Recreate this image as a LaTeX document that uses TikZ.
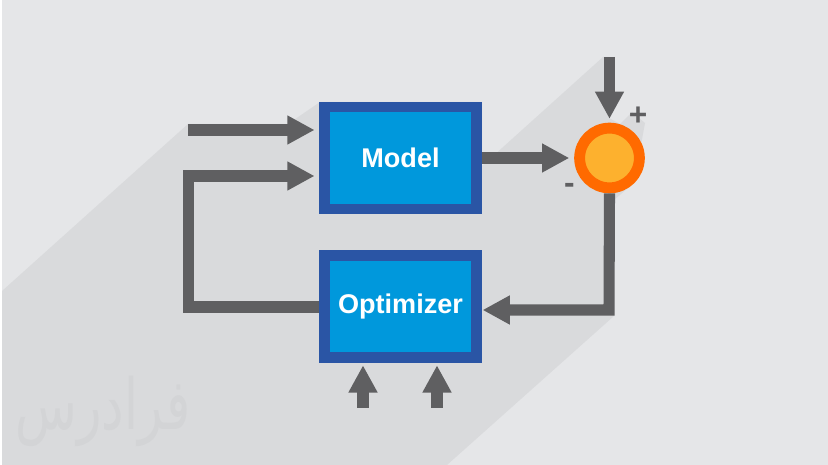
\documentclass[tikz,border=0pt]{standalone}
\usepackage{fontspec}
\setmainfont{Liberation Sans}
\newfontfamily\arabicfont[Script=Arabic]{DejaVu Sans}
\TeXXeTstate=1
\usetikzlibrary{arrows.meta}
\definecolor{bgcol}{HTML}{E5E6E8}
\definecolor{shadecol}{HTML}{D9DADC}
\definecolor{markcol}{HTML}{D3D4D6}
\definecolor{flowcol}{HTML}{5F5F61}
\definecolor{rimcol}{HTML}{2A55A5}
\definecolor{boxcol}{HTML}{0098DC}
\definecolor{ringcol}{HTML}{FF6A00}
\definecolor{suncol}{HTML}{FDB12E}
\tikzset{
  block/.style={draw=rimcol,fill=boxcol,line width=5.95pt,minimum width=86.3pt,minimum height=58pt,text=white,font=\bfseries\fontsize{15.4}{18}\selectfont},
  flow/.style={draw=flowcol,line width=6.3pt,miter limit=10,-{Triangle[length=15.5pt,width=15.5pt]}},
  sign/.style={text=flowcol,inner sep=0pt,font=\bfseries\fontsize{18}{20}\selectfont}
}
\begin{document}
\begin{tikzpicture}[x=0.02cm,y=-0.02cm]
      \useasboundingbox (0,0) rectangle (828,465);
      \fill[white] (0,0) rectangle (828,465);
      \fill[bgcol] (2,0) rectangle (828,465);
      \fill[shadecol] (2,291) -- (188,124) -- (288,124) -- (320,102) -- (482,102) -- (482,166) -- (603,57) -- (609,57) -- (609,118) -- (620,124) -- (632,112) -- (645,123) -- (634,183) -- (614,200) -- (614,316) -- (447,465) -- (2,465) -- cycle;
      \node[text=markcol,xscale=0.72,transform shape,font=\arabicfont\fontsize{40}{44}\selectfont] (brand) at (103,411) {\beginR فرادرس\endR};
      \node[block] (model) at (400.5,158) {Model};
      \node[block] (optimizer) at (400.5,306.5) {Optimizer};
      \node[circle,draw=ringcol,fill=suncol,line width=6.2pt,minimum size=34pt,inner sep=0pt] (sum) at (609.5,158) {};
      \coordinate (in1) at (188,130);
      \coordinate (in2) at (188.5,176);
      \coordinate (bend) at (188.5,307);
      \coordinate (top) at (609.5,57);
      \coordinate (corner) at (609,310);
      \coordinate (low1) at (363,408);
      \coordinate (low2) at (437,408);
      \draw[flow,shorten >=2.8pt] (in1) -- (in1 -| model.west);
      \draw[flow,shorten >=2.8pt] (optimizer.west |- bend) -- (bend) -- (in2) -- (in2 -| model.west);
      \draw[flow,shorten >=2.8pt] (model.east) -- (sum.west);
      \draw[flow,shorten >=2.2pt] (top) -- (sum.north);
      \draw[flow,shorten >=0.6pt] (sum.south) -- (corner) -- (corner -| optimizer.east);
      \draw[flow,shorten >=1.5pt] (low1) -- (low1 |- optimizer.south);
      \draw[flow,shorten >=1.5pt] (low2) -- (low2 |- optimizer.south);
      \node[sign] (plus) at (638,116) {+};
      \node[sign] (minus) at (569.5,188) {-};
\end{tikzpicture}
\end{document}
